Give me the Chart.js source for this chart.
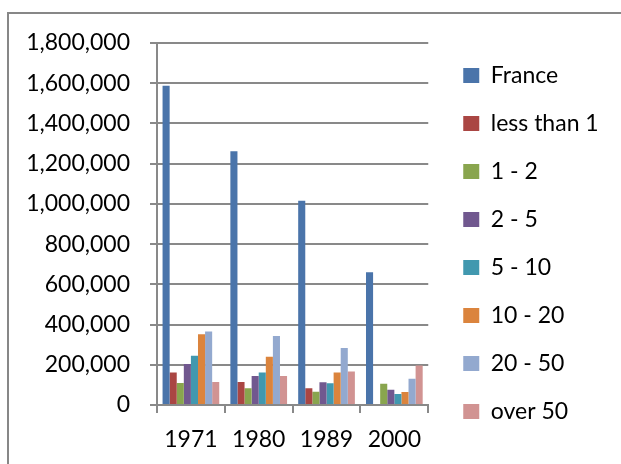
<!DOCTYPE html>
<html>
<head>
<meta charset="utf-8">
<title>France farms by size</title>
<script src="https://cdn.jsdelivr.net/npm/chart.js@4.4.1/dist/chart.umd.min.js"></script>
<style>
    html, body { margin: 0; padding: 0; background: #fff; overflow: hidden; }
    #wrap { position: relative; width: 621px; height: 464px; }
    #frame {
        position: absolute; left: 7px; top: 12px; width: 700px; height: 600px;
        border-left: 2px solid #878787; border-top: 2px solid #878787;
        pointer-events: none;
    }
    canvas { position: absolute; left: 0; top: 0; }
</style>
</head>
<body>
<div id="wrap">
    <canvas id="chart" width="621" height="464"></canvas>
    <div id="frame"></div>
</div>
<script>
    // Categories
    const years = ['1971', '1980', '1989', '2000'];

    // Series values
    const france    = [1588000, 1262000, 1015000, 660000];
    const lessThan1 = [161000, 114000, 83000, null];
    const from1to2  = [109000, 83000, 66000, 106000];
    const from2to5  = [204000, 144000, 113000, 76000];
    const from5to10 = [245000, 161000, 108000, 55000];
    const from10to20 = [352000, 240000, 161000, 65000];
    const from20to50 = [365000, 343000, 284000, 131000];
    const over50    = [114000, 144000, 167000, 196000];

    const seriesNames = ['France', 'less than 1', '1 - 2', '2 - 5', '5 - 10', '10 - 20', '20 - 50', 'over 50'];
    const seriesValues = [france, lessThan1, from1to2, from2to5, from5to10, from10to20, from20to50, over50];
    const seriesColors = ['#4A74AA', '#AA4643', '#89A54E', '#71588F', '#4198AF', '#DB843D', '#93A9CF', '#D19392'];

    // Y tick range
    const yMax = 1800000;
    const yStep = 200000;

    const FONT = { family: 'Lato, "Open Sans", sans-serif', size: 23 };
    const GRID = '#898989';

    // Nudge legend to where the original puts it,
    // and let it run to the canvas edge so nothing gets clipped
    const legendShift = {
        id: 'legendShift',
        afterLayout(chart) {
            let lg = chart.legend;
            const dx = 10, dy = -10;
            lg.left += dx;
            lg.right = chart.width;
            lg.top += dy; lg.bottom += dy;
        }
    };

    const data = {
        labels: years,
        datasets: seriesNames.map((name, i) => ({
            label: name,
            data: seriesValues[i],
            backgroundColor: seriesColors[i],
            borderWidth: 0,
            barPercentage: 1,
            categoryPercentage: 0.836
        }))
    };

    const config = {
        type: 'bar',
        data: data,
        options: {
            responsive: false,
            animation: false,
            layout: {
                padding: { top: 43, left: 0, right: 50, bottom: 0 }
            },
            scales: {
                x: {
                    grid: {
                        display: true,
                        drawOnChartArea: false,
                        color: GRID,
                        lineWidth: 2,
                        tickLength: 8,
                        offset: true
                    },
                    border: { color: GRID, width: 2 },
                    ticks: { color: '#000', font: FONT, padding: 13 },
                    afterFit: function (scale) {
                        scale.height = 59;
                    }
                },
                y: {
                    min: 0,
                    max: yMax,
                    ticks: {
                        stepSize: yStep,
                        color: '#000',
                        font: FONT,
                        padding: 20,
                        callback: function (value) {
                            return value.toLocaleString('en-US');
                        }
                    },
                    grid: {
                        color: GRID,
                        lineWidth: 2,
                        tickLength: 7
                    },
                    border: { color: GRID, width: 2 },
                    afterFit: function (scale) {
                        scale.width = 157;
                    }
                }
            },
            plugins: {
                legend: {
                    display: true,
                    position: 'right',
                    align: 'center',
                    labels: {
                        color: '#000',
                        font: FONT,
                        boxWidth: 16,
                        boxHeight: 15,
                        padding: 25
                    }
                },
                tooltip: { enabled: false }
            }
        },
        plugins: [legendShift]
    };

    // Draw Chart
    new Chart(document.getElementById('chart'), config);
</script>
</body>
</html>
